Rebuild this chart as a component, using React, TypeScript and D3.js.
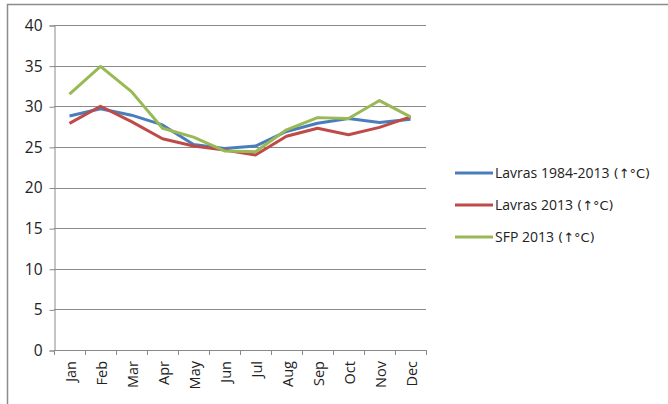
import React, { useEffect, useRef } from 'react';
import * as d3 from 'd3';

const months = ['Jan', 'Feb', 'Mar', 'Apr', 'May', 'Jun', 'Jul', 'Aug', 'Sep', 'Oct', 'Nov', 'Dec'];
const lavrasNormal = [28.8, 29.7, 28.9, 27.7, 25.3, 24.8, 25.1, 26.9, 27.9, 28.5, 28.0, 28.4];
const lavras2013 = [27.9, 30.0, 28.1, 26.0, 25.1, 24.6, 24.0, 26.3, 27.3, 26.5, 27.4, 28.7];
const sfp2013 = [31.5, 34.9, 31.8, 27.3, 26.2, 24.5, 24.4, 27.1, 28.6, 28.5, 30.7, 28.7];
const seriesNames = ['Lavras 1984-2013', 'Lavras 2013', 'SFP 2013'];
const seriesUnit = ' (↑°C)';
const seriesColors = ['#4A7EBB', '#BE4B48', '#98B954'];
const yTicks = [0, 5, 10, 15, 20, 25, 30, 35, 40];

const App = () => {
    const ref = useRef<SVGSVGElement>(null);

    useEffect(() => {
        const svg = d3.select(ref.current);
        svg.selectAll('*').remove();

        const left = 54, right = 426, top = 25, bottom = 350;
        const font = '"Open Sans", "Noto Sans", sans-serif';

        // chart frame (runs off the right and bottom edges)
        svg.append('rect')
            .attr('x', 7.5).attr('y', 4.5)
            .attr('width', 700).attr('height', 500)
            .attr('fill', 'white')
            .attr('stroke', '#8c8c8c').attr('stroke-width', 1.5);

        const x = d3.scaleBand().domain(months).range([left, right]);
        const y = d3.scaleLinear().domain([0, 40]).range([bottom, top]);

        // gridlines
        svg.append('g').selectAll('line').data(yTicks.filter(d => d > 0)).join('line')
            .attr('x1', left).attr('x2', right)
            .attr('y1', d => Math.round(y(d)) + 0.5).attr('y2', d => Math.round(y(d)) + 0.5)
            .attr('stroke', '#8a8a8a').attr('stroke-width', 1);

        // y axis
        const yAxis = svg.append('g').attr('transform', `translate(${left + 0.5},0.5)`)
            .call(d3.axisLeft(y).tickValues(yTicks).tickSize(5).tickPadding(7));
        yAxis.select('.domain').attr('stroke', '#8a8a8a');
        yAxis.selectAll('.tick line').attr('stroke', '#8a8a8a');
        yAxis.selectAll('.tick text').attr('font-family', font).attr('font-size', 15.5).attr('fill', '#222');

        // x axis
        const bounds = months.map(m => x(m) as number).concat([right]);
        svg.append('line')
            .attr('x1', left).attr('x2', right)
            .attr('y1', bottom + 0.5).attr('y2', bottom + 0.5)
            .attr('stroke', '#8a8a8a');
        svg.append('g').selectAll('line').data(bounds).join('line')
            .attr('x1', d => Math.round(d) + 0.5).attr('x2', d => Math.round(d) + 0.5)
            .attr('y1', bottom).attr('y2', bottom + 5)
            .attr('stroke', '#8a8a8a');
        svg.append('g').selectAll('text').data(months).join('text')
            .attr('transform', d => `translate(${(x(d) as number) + x.bandwidth() / 2 + 1},${bottom + 11}) rotate(-90)`)
            .attr('text-anchor', 'end')
            .attr('dy', '0.35em')
            .attr('font-family', font).attr('font-size', 14.5).attr('fill', '#222')
            .text(d => d);

        // series lines
        const line = d3.line<number>()
            .x((_, i) => (x(months[i]) as number) + x.bandwidth() / 2)
            .y(d => y(d));
        [lavrasNormal, lavras2013, sfp2013].forEach((s, i) => {
            svg.append('path')
                .datum(s)
                .attr('d', line)
                .attr('fill', 'none')
                .attr('stroke', seriesColors[i])
                .attr('stroke-width', 3)
                .attr('stroke-linejoin', 'round');
        });

        // legend
        const lg = svg.append('g').attr('transform', 'translate(455,173)');
        seriesNames.forEach((name, i) => {
            const g = lg.append('g').attr('transform', `translate(0,${i * 32})`);
            g.append('line').attr('x1', 0).attr('x2', 38).attr('stroke', seriesColors[i]).attr('stroke-width', 3);
            const t = g.append('text').attr('x', 40).attr('dy', '0.35em')
                .attr('font-family', font).attr('font-size', 14).attr('fill', '#222');
            t.append('tspan').text(name);
            t.append('tspan').attr('font-family', '"DejaVu Sans", sans-serif').attr('font-size', 13).text(seriesUnit);
        });
    }, []);

    return (
        <svg ref={ref} width={668} height={404}
            style={{ position: 'absolute', left: 0, top: 0, background: 'white' }} />
    );
};

export default App;
